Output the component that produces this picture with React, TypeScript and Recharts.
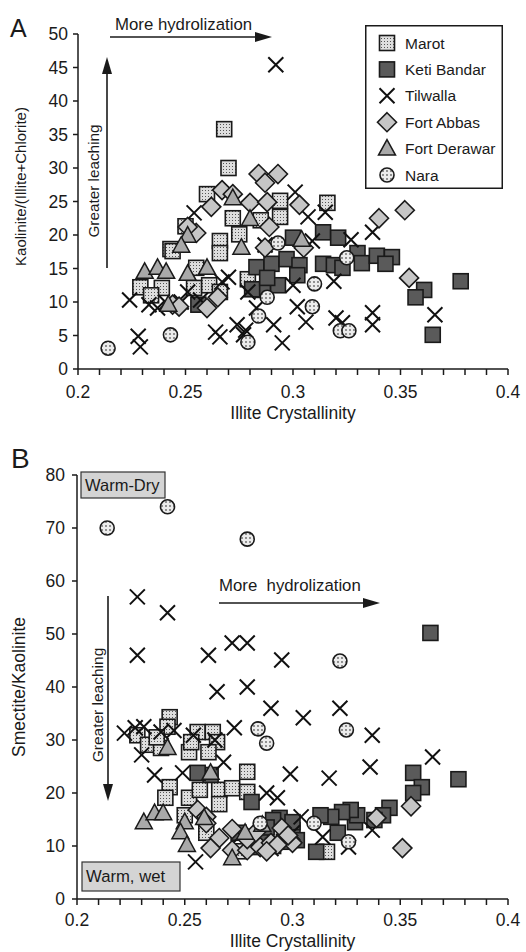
// Two-panel clay-mineral scatter plots (Kaolinite ratio and Smectite/Kaolinite vs Illite Crystallinity).
import React from "react";
import { ScatterChart, Scatter, XAxis, YAxis, Legend } from "recharts";

const FONT = "'Liberation Sans', Arial, sans-serif";
const INK = "#1a1a1a";

// x axis: a tick every 0.01, labels only on the 0.05 steps
const X_TICKS = [
  0.2, 0.21, 0.22, 0.23, 0.24, 0.25, 0.26, 0.27, 0.28, 0.29, 0.3,
  0.31, 0.32, 0.33, 0.34, 0.35, 0.36, 0.37, 0.38, 0.39, 0.4,
];
const X_LABELED = [0.2, 0.25, 0.3, 0.35, 0.4];
const Y_TICKS_A = [0, 5, 10, 15, 20, 25, 30, 35, 40, 45, 50];
const Y_TICKS_B = [0, 10, 20, 30, 40, 50, 60, 70, 80];

const SERIES = ["Marot", "Keti Bandar", "Tilwalla", "Fort Abbas", "Fort Derawar", "Nara"];

// ---- panel A: Kaolinite/(Illite+Chlorite)
const marotA = [
  { x: 0.268, y: 35.8 }, { x: 0.27, y: 30.0 }, { x: 0.26, y: 26.1 }, { x: 0.25, y: 21.3 },
  { x: 0.243, y: 17.9 }, { x: 0.272, y: 22.5 }, { x: 0.275, y: 20.1 }, { x: 0.266, y: 19.1 },
  { x: 0.266, y: 17.3 }, { x: 0.229, y: 12.2 }, { x: 0.239, y: 12.1 }, { x: 0.255, y: 15.1 },
  { x: 0.254, y: 12.1 }, { x: 0.261, y: 12.5 }, { x: 0.266, y: 11.5 }, { x: 0.279, y: 13.4 },
  { x: 0.285, y: 22.2 }, { x: 0.294, y: 22.7 }, { x: 0.294, y: 25.1 }, { x: 0.316, y: 24.8 },
  { x: 0.244, y: 17.6 }, { x: 0.234, y: 11.0 },
];
const ketiA = [
  { x: 0.256, y: 9.6 }, { x: 0.283, y: 15.2 }, { x: 0.29, y: 15.7 }, { x: 0.297, y: 16.4 },
  { x: 0.303, y: 15.5 }, { x: 0.302, y: 14.0 }, { x: 0.293, y: 12.5 }, { x: 0.286, y: 11.8 },
  { x: 0.281, y: 11.9 }, { x: 0.3, y: 19.6 }, { x: 0.314, y: 20.4 }, { x: 0.321, y: 19.6 },
  { x: 0.314, y: 15.7 }, { x: 0.319, y: 15.5 }, { x: 0.323, y: 15.1 }, { x: 0.33, y: 17.3 },
  { x: 0.332, y: 15.8 }, { x: 0.339, y: 16.9 }, { x: 0.346, y: 16.7 }, { x: 0.343, y: 15.7 },
  { x: 0.378, y: 13.1 }, { x: 0.361, y: 11.8 }, { x: 0.357, y: 10.7 }, { x: 0.365, y: 5.1 },
  { x: 0.288, y: 13.6 },
];
const tilwallaA = [
  { x: 0.292, y: 45.4 }, { x: 0.301, y: 26.4 }, { x: 0.307, y: 22.7 }, { x: 0.315, y: 23.4 },
  { x: 0.309, y: 19.1 }, { x: 0.327, y: 19.3 }, { x: 0.337, y: 20.4 }, { x: 0.254, y: 23.3 },
  { x: 0.224, y: 10.3 }, { x: 0.228, y: 4.9 }, { x: 0.229, y: 3.3 }, { x: 0.233, y: 9.6 },
  { x: 0.237, y: 9.1 }, { x: 0.241, y: 9.9 }, { x: 0.248, y: 10.0 }, { x: 0.251, y: 11.5 },
  { x: 0.257, y: 10.3 }, { x: 0.264, y: 5.5 }, { x: 0.274, y: 6.6 }, { x: 0.278, y: 5.8 },
  { x: 0.27, y: 13.7 }, { x: 0.267, y: 13.0 }, { x: 0.279, y: 11.5 }, { x: 0.283, y: 9.1 },
  { x: 0.291, y: 6.6 }, { x: 0.295, y: 3.9 }, { x: 0.287, y: 18.5 }, { x: 0.3, y: 12.5 },
  { x: 0.319, y: 13.1 }, { x: 0.302, y: 9.3 }, { x: 0.306, y: 7.0 }, { x: 0.32, y: 7.6 },
  { x: 0.323, y: 6.9 }, { x: 0.337, y: 8.4 }, { x: 0.337, y: 6.6 }, { x: 0.366, y: 8.1 },
  { x: 0.266, y: 4.8 }, { x: 0.277, y: 5.1 },
];
const abbasA = [
  { x: 0.284, y: 29.1 }, { x: 0.293, y: 29.1 }, { x: 0.287, y: 27.8 }, { x: 0.267, y: 26.7 },
  { x: 0.272, y: 26.1 }, { x: 0.262, y: 24.2 }, { x: 0.28, y: 24.8 }, { x: 0.288, y: 24.9 },
  { x: 0.303, y: 24.5 }, { x: 0.255, y: 20.3 }, { x: 0.251, y: 21.2 }, { x: 0.289, y: 21.2 },
  { x: 0.305, y: 18.1 }, { x: 0.287, y: 18.1 }, { x: 0.34, y: 22.5 }, { x: 0.352, y: 23.7 },
  { x: 0.354, y: 13.6 }, { x: 0.244, y: 9.6 }, { x: 0.26, y: 9.1 }, { x: 0.247, y: 9.3 },
  { x: 0.265, y: 10.7 },
];
const derawarA = [
  { x: 0.272, y: 25.5 }, { x: 0.28, y: 22.4 }, { x: 0.276, y: 18.1 }, { x: 0.251, y: 19.9 },
  { x: 0.248, y: 18.4 }, { x: 0.231, y: 14.5 }, { x: 0.237, y: 15.1 }, { x: 0.241, y: 14.5 },
  { x: 0.251, y: 14.2 }, { x: 0.26, y: 15.1 }, { x: 0.242, y: 9.6 }, { x: 0.304, y: 19.3 },
];
const naraA = [
  { x: 0.214, y: 3.1 }, { x: 0.243, y: 5.1 }, { x: 0.279, y: 4.0 }, { x: 0.322, y: 5.7 },
  { x: 0.326, y: 5.7 }, { x: 0.309, y: 9.3 }, { x: 0.31, y: 12.7 }, { x: 0.284, y: 7.9 },
  { x: 0.293, y: 18.8 }, { x: 0.288, y: 10.7 }, { x: 0.325, y: 16.6 },
];

// ---- panel B: Smectite/Kaolinite
const marotB = [
  { x: 0.243, y: 34.3 }, { x: 0.242, y: 32.5 }, { x: 0.228, y: 30.9 }, { x: 0.233, y: 29.1 },
  { x: 0.239, y: 28.5 }, { x: 0.256, y: 31.5 }, { x: 0.263, y: 31.5 }, { x: 0.265, y: 29.6 },
  { x: 0.261, y: 27.7 }, { x: 0.252, y: 27.7 }, { x: 0.253, y: 29.6 }, { x: 0.243, y: 21.1 },
  { x: 0.241, y: 19.1 }, { x: 0.252, y: 19.1 }, { x: 0.266, y: 20.6 }, { x: 0.272, y: 20.9 },
  { x: 0.279, y: 24.0 }, { x: 0.279, y: 20.2 }, { x: 0.266, y: 17.9 }, { x: 0.25, y: 15.8 },
  { x: 0.26, y: 12.5 }, { x: 0.257, y: 20.6 }, { x: 0.316, y: 8.9 }, { x: 0.275, y: 9.0 },
  { x: 0.237, y: 30.5 },
];
const ketiB = [
  { x: 0.364, y: 50.2 }, { x: 0.356, y: 23.8 }, { x: 0.36, y: 21.1 }, { x: 0.356, y: 20.0 },
  { x: 0.377, y: 22.6 }, { x: 0.345, y: 17.2 }, { x: 0.342, y: 15.8 }, { x: 0.338, y: 14.9 },
  { x: 0.329, y: 14.5 }, { x: 0.33, y: 15.8 }, { x: 0.327, y: 16.8 }, { x: 0.323, y: 16.4 },
  { x: 0.318, y: 15.5 }, { x: 0.313, y: 15.8 }, { x: 0.321, y: 12.5 }, { x: 0.311, y: 8.9 },
  { x: 0.281, y: 18.3 }, { x: 0.294, y: 15.3 }, { x: 0.3, y: 13.0 }, { x: 0.296, y: 10.8 },
  { x: 0.302, y: 11.1 }, { x: 0.285, y: 11.7 }, { x: 0.282, y: 9.8 }, { x: 0.275, y: 12.5 },
  { x: 0.262, y: 23.4 }, { x: 0.256, y: 23.8 }, { x: 0.291, y: 14.9 }, { x: 0.3, y: 14.5 },
  { x: 0.288, y: 13.5 }, { x: 0.291, y: 10.0 },
];
const tilwallaB = [
  { x: 0.228, y: 57.0 }, { x: 0.242, y: 54.0 }, { x: 0.228, y: 46.0 }, { x: 0.261, y: 46.0 },
  { x: 0.272, y: 48.3 }, { x: 0.279, y: 48.3 }, { x: 0.295, y: 45.1 }, { x: 0.265, y: 39.1 },
  { x: 0.279, y: 40.0 }, { x: 0.29, y: 36.0 }, { x: 0.305, y: 34.2 }, { x: 0.273, y: 32.3 },
  { x: 0.268, y: 25.8 }, { x: 0.299, y: 23.6 }, { x: 0.236, y: 23.4 }, { x: 0.249, y: 23.8 },
  { x: 0.23, y: 27.2 }, { x: 0.222, y: 31.3 }, { x: 0.227, y: 32.3 }, { x: 0.231, y: 32.5 },
  { x: 0.239, y: 31.5 }, { x: 0.254, y: 30.9 }, { x: 0.255, y: 7.0 }, { x: 0.293, y: 19.1 },
  { x: 0.322, y: 36.0 }, { x: 0.337, y: 30.9 }, { x: 0.336, y: 24.9 }, { x: 0.317, y: 22.8 },
  { x: 0.365, y: 26.8 }, { x: 0.337, y: 13.0 }, { x: 0.314, y: 11.7 }, { x: 0.326, y: 9.8 },
  { x: 0.288, y: 20.0 }, { x: 0.304, y: 15.5 }, { x: 0.245, y: 31.8 }, { x: 0.276, y: 12.0 },
  { x: 0.29, y: 9.5 }, { x: 0.286, y: 10.5 }, { x: 0.3, y: 12.5 }, { x: 0.264, y: 30.0 },
];
const abbasB = [
  { x: 0.355, y: 17.5 }, { x: 0.351, y: 9.6 }, { x: 0.339, y: 15.3 }, { x: 0.256, y: 16.8 },
  { x: 0.26, y: 15.5 }, { x: 0.266, y: 11.5 }, { x: 0.272, y: 13.2 }, { x: 0.262, y: 9.6 },
  { x: 0.272, y: 9.2 }, { x: 0.279, y: 9.2 }, { x: 0.279, y: 11.3 }, { x: 0.285, y: 9.8 },
  { x: 0.29, y: 10.6 }, { x: 0.295, y: 13.4 }, { x: 0.3, y: 10.6 }, { x: 0.293, y: 10.2 },
  { x: 0.283, y: 12.6 }, { x: 0.26, y: 14.3 }, { x: 0.288, y: 9.0 }, { x: 0.298, y: 12.0 },
];
const derawarB = [
  { x: 0.231, y: 14.5 }, { x: 0.236, y: 16.2 }, { x: 0.24, y: 16.2 }, { x: 0.242, y: 28.5 },
  { x: 0.25, y: 14.5 }, { x: 0.248, y: 12.6 }, { x: 0.251, y: 10.2 }, { x: 0.262, y: 23.8 },
  { x: 0.272, y: 7.7 }, { x: 0.259, y: 15.3 }, { x: 0.278, y: 12.5 }, { x: 0.286, y: 14.0 },
];
const naraB = [
  { x: 0.214, y: 70.0 }, { x: 0.242, y: 74.0 }, { x: 0.279, y: 67.9 }, { x: 0.322, y: 44.9 },
  { x: 0.325, y: 31.9 }, { x: 0.284, y: 32.1 }, { x: 0.288, y: 29.4 }, { x: 0.285, y: 14.3 },
  { x: 0.31, y: 14.3 }, { x: 0.326, y: 10.8 },
];

// ---- marker shapes
type P = { cx?: number; cy?: number };

function MarotMark({ cx = 0, cy = 0 }: P) {
  return <rect x={cx - 7.5} y={cy - 7.5} width={15} height={15} fill="url(#stipple)" stroke={INK} strokeWidth={1.6} />;
}
function KetiMark({ cx = 0, cy = 0 }: P) {
  return <rect x={cx - 7.5} y={cy - 7.5} width={15} height={15} fill="#5a5a5a" stroke={INK} strokeWidth={1.6} />;
}
function TilwallaMark({ cx = 0, cy = 0 }: P) {
  const h = 7.5;
  return (
    <path
      d={`M${cx - h},${cy - h}L${cx + h},${cy + h}M${cx - h},${cy + h}L${cx + h},${cy - h}`}
      stroke="#111"
      strokeWidth={2}
      fill="none"
    />
  );
}
function AbbasMark({ cx = 0, cy = 0 }: P) {
  const h = 9.5;
  return (
    <polygon
      points={`${cx},${cy - h} ${cx + h},${cy} ${cx},${cy + h} ${cx - h},${cy}`}
      fill="#c6c6c6"
      stroke={INK}
      strokeWidth={1.6}
    />
  );
}
function DerawarMark({ cx = 0, cy = 0 }: P) {
  return (
    <polygon
      points={`${cx},${cy - 9} ${cx + 8.5},${cy + 6.5} ${cx - 8.5},${cy + 6.5}`}
      fill="#a9a9a9"
      stroke={INK}
      strokeWidth={1.5}
    />
  );
}
function NaraMark({ cx = 0, cy = 0 }: P) {
  return <circle cx={cx} cy={cy} r={7} fill="url(#dots)" stroke={INK} strokeWidth={1.6} />;
}

const MARKS: Record<string, (p: P) => React.ReactElement> = {
  Marot: MarotMark,
  "Keti Bandar": KetiMark,
  Tilwalla: TilwallaMark,
  "Fort Abbas": AbbasMark,
  "Fort Derawar": DerawarMark,
  Nara: NaraMark,
};

const fmtX = (v: number) => (X_LABELED.some((m) => Math.abs(m - v) < 1e-9) ? String(v) : "");

const tickStyle = { fontSize: 17.5, fill: INK, fontFamily: FONT };
const lineStyle = { stroke: INK, strokeWidth: 1.5 };

function YTitle({ viewBox, value, shift = 0, size = 15 }: any) {
  const cx = viewBox.x - 18;
  const cy = viewBox.y + viewBox.height / 2 + shift;
  return (
    <text
      x={cx}
      y={cy}
      transform={`rotate(-90 ${cx} ${cy})`}
      textAnchor="middle"
      dominantBaseline="central"
      fontSize={size}
      fontFamily={FONT}
      fill={INK}
    >
      {value}
    </text>
  );
}

function LegendBox({ payload }: any) {
  // keep the series order of the figure, not the legend's sorted order
  const items = (payload || [])
    .map((p: any) => p.value as string)
    .sort((a: string, b: string) => SERIES.indexOf(a) - SERIES.indexOf(b));
  return (
    <svg width={138} height={164} style={{ display: "block" }}>
      <rect x={0.75} y={0.75} width={136.5} height={162.5} fill="#fff" stroke={INK} strokeWidth={1.5} />
      {items.map((name: string, i: number) => {
        const Mark = MARKS[name];
        const cy = 18 + i * 26.4;
        return (
          <g key={name}>
            <Mark cx={22} cy={cy} />
            <text x={40} y={cy} dominantBaseline="central" fontSize={15.5} fontFamily={FONT} fill={INK}>
              {name}
            </text>
          </g>
        );
      })}
    </svg>
  );
}

function series(list: { x: number; y: number }[][]) {
  return SERIES.map((name, i) => {
    const Mark = MARKS[name];
    return (
      <Scatter
        key={name}
        name={name}
        data={list[i]}
        isAnimationActive={false}
        shape={(p: any) => <Mark cx={p.cx} cy={p.cy} />}
      />
    );
  });
}

function Arrow({ x1, y1, x2, y2 }: { x1: number; y1: number; x2: number; y2: number }) {
  // straight line ending in a filled head at (x2, y2)
  const dx = x2 - x1;
  const dy = y2 - y1;
  const len = Math.hypot(dx, dy);
  const ux = dx / len;
  const uy = dy / len;
  const hl = 17;
  const hw = 5;
  const bx = x2 - ux * hl;
  const by = y2 - uy * hl;
  return (
    <g>
      <line x1={x1} y1={y1} x2={bx} y2={by} stroke={INK} strokeWidth={1.6} />
      <polygon
        points={`${x2},${y2} ${bx - uy * hw},${by + ux * hw} ${bx + uy * hw},${by - ux * hw}`}
        fill={INK}
      />
    </g>
  );
}

export default function App() {
  return (
    <div style={{ position: "absolute", left: 0, top: 0, width: 526, height: 952, background: "#fff", fontFamily: FONT }}>
      <svg width={0} height={0} style={{ position: "absolute" }}>
        <defs>
          <pattern id="stipple" patternUnits="userSpaceOnUse" width={3} height={3}>
            <rect width={3} height={3} fill="#dedede" />
            <rect x={1} y={1} width={1} height={1} fill="#555" />
          </pattern>
          <pattern id="dots" patternUnits="userSpaceOnUse" width={4} height={4}>
            <rect width={4} height={4} fill="#ececec" />
            <circle cx={2} cy={2} r={0.9} fill="#666" />
          </pattern>
        </defs>
      </svg>

      <div style={{ position: "absolute", left: 0, top: 0 }}>
        <ScatterChart width={526} height={440} margin={{ top: 34, right: 18, bottom: 31, left: 38 }}>
          <XAxis
            type="number"
            dataKey="x"
            domain={[0.2, 0.4]}
            ticks={X_TICKS}
            interval={0}
            tickFormatter={fmtX}
            height={40}
            tickSize={6}
            tickMargin={11}
            tick={tickStyle}
            axisLine={lineStyle}
            tickLine={lineStyle}
            label={{ value: "Illite Crystallinity", position: "bottom", offset: -2, fontSize: 17.5, fill: INK, fontFamily: FONT }}
          />
          <YAxis
            type="number"
            dataKey="y"
            domain={[0, 50]}
            ticks={Y_TICKS_A}
            interval={0}
            width={40}
            tickSize={5}
            tickMargin={5}
            tick={tickStyle}
            axisLine={lineStyle}
            tickLine={lineStyle}
            label={<YTitle value="Kaolinite/(Illite+Chlorite)" shift={-15} size={15} />}
          />
          <Legend
            layout="horizontal"
            verticalAlign="middle"
            align="center"
            wrapperStyle={{ left: 365, top: 25, width: 138 }}
            content={<LegendBox />}
          />
          {series([marotA, ketiA, tilwallaA, abbasA, derawarA, naraA])}
        </ScatterChart>
      </div>

      <div style={{ position: "absolute", left: 0, top: 440 }}>
        <ScatterChart width={526} height={512} margin={{ top: 35, right: 18, bottom: 13, left: 37 }}>
          <XAxis
            type="number"
            dataKey="x"
            domain={[0.2, 0.4]}
            ticks={X_TICKS}
            interval={0}
            tickFormatter={fmtX}
            height={40}
            tickSize={6}
            tickMargin={9}
            tick={tickStyle}
            axisLine={lineStyle}
            tickLine={lineStyle}
            label={{ value: "Illite Crystallinity", position: "bottom", offset: -4, fontSize: 17.5, fill: INK, fontFamily: FONT }}
          />
          <YAxis
            type="number"
            dataKey="y"
            domain={[0, 80]}
            ticks={Y_TICKS_B}
            interval={0}
            width={40}
            tickSize={5}
            tickMargin={7}
            tick={tickStyle}
            axisLine={lineStyle}
            tickLine={lineStyle}
            label={<YTitle value="Smectite/Kaolinite" size={17.5} />}
          />
          {series([marotB, ketiB, tilwallaB, abbasB, derawarB, naraB])}
        </ScatterChart>
      </div>

      {/* annotations */}
      <svg width={526} height={952} style={{ position: "absolute", left: 0, top: 0, pointerEvents: "none" }} fontFamily={FONT} fill={INK}>
        <text x={10} y={37} fontSize={25}>A</text>
        <text x={115} y={30} fontSize={16.8}>More hydrolization</text>
        <Arrow x1={110} y1={37} x2={272} y2={37} />
        <Arrow x1={107} y1={268} x2={107} y2={57} />
        <text x={99} y={181} fontSize={15.3} textAnchor="middle" transform="rotate(-90 99 181)">Greater leaching</text>

        <text x={11} y={468} fontSize={28}>B</text>
        <rect x={81} y={472} width={84} height={26} fill="#d4d4d4" stroke="#333" strokeWidth={1.2} />
        <text x={85} y={491} fontSize={16.5}>Warm-Dry</text>
        <text x={219} y={591} fontSize={16.8} style={{ whiteSpace: "pre" }}>More  hydrolization</text>
        <Arrow x1={219} y1={603} x2={380} y2={603} />
        <Arrow x1={108} y1={596} x2={108} y2={801} />
        <text x={103} y={705} fontSize={15.5} textAnchor="middle" transform="rotate(-90 103 705)">Greater leaching</text>
        <rect x={82} y={862} width={98} height={29} fill="#d4d4d4" stroke="#333" strokeWidth={1.2} />
        <text x={86} y={882} fontSize={16.7}>Warm, wet</text>
      </svg>
    </div>
  );
}
